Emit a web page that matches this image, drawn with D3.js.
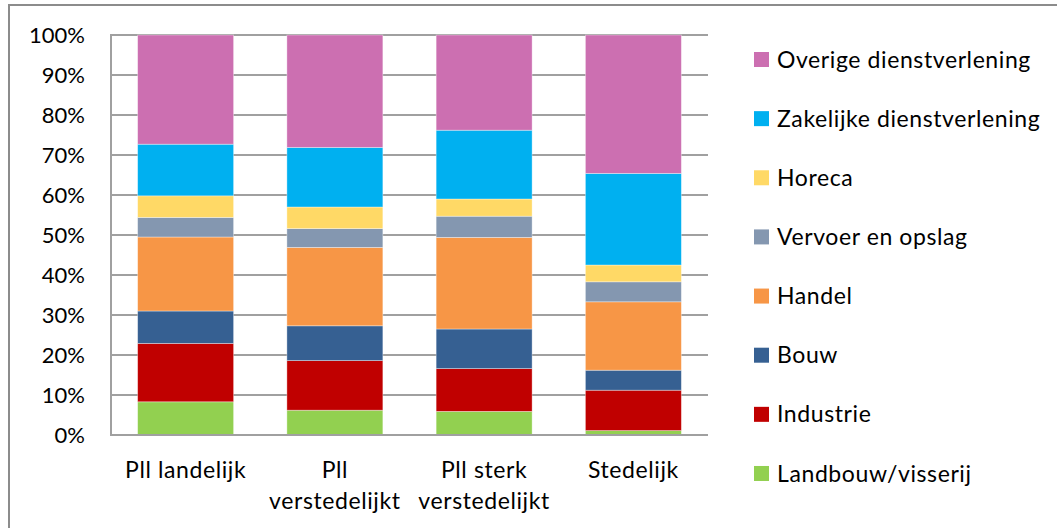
<!DOCTYPE html>
<html>
<head>
<meta charset="utf-8">
<script src="https://cdn.jsdelivr.net/npm/d3@7"></script>
<style>
  html, body { margin: 0; padding: 0; background: #fff; }
  svg { display: block; }
  text { font-family: Lato, "Open Sans", sans-serif; fill: #000; }
</style>
</head>
<body>
<svg id="chart" width="1057" height="528"></svg>
<script>
// ---- data ----
const categories = ["Pll landelijk", "Pll verstedelijkt", "Pll sterk verstedelijkt", "Stedelijk"];
const categoryLines = [["Pll landelijk"], ["Pll", "verstedelijkt"], ["Pll sterk", "verstedelijkt"], ["Stedelijk"]];
const seriesNames = ["Landbouw/visserij", "Industrie", "Bouw", "Handel", "Vervoer en opslag", "Horeca", "Zakelijke dienstverlening", "Overige dienstverlening"];
const landbouw = [8.3, 6.2, 5.9, 1.1];
const industrie = [14.6, 12.4, 10.7, 10.1];
const bouw = [8.1, 8.7, 9.9, 5.0];
const handel = [18.5, 19.6, 22.9, 17.1];
const vervoer = [4.9, 4.7, 5.3, 5.0];
const horeca = [5.4, 5.4, 4.3, 4.2];
const zakelijk = [12.9, 14.9, 17.2, 22.9];
const overige = [27.3, 28.1, 23.8, 34.6];
const seriesValues = [landbouw, industrie, bouw, handel, vervoer, horeca, zakelijk, overige];
const colors = ["#92D050", "#C00000", "#366092", "#F79646", "#8497B0", "#FFD966", "#00B0F0", "#CC6FB1"];
const yTicks = [0, 10, 20, 30, 40, 50, 60, 70, 80, 90, 100];

// ---- layout ----
const svg = d3.select("#chart");
const plot = { left: 111, right: 708, top: 35, bottom: 435 };
const fontSize = 23;
const spacing = 0.6;

// outer frame
svg.append("path")
  .attr("d", "M9,540 L9,5 L1070,5")
  .attr("fill", "none").attr("stroke", "#8c8c8c").attr("stroke-width", 2);

const x = d3.scaleBand().domain(categories).range([plot.left, plot.right])
  .paddingInner(0.357).paddingOuter(0.1785);
const y = d3.scaleLinear().domain([0, 100]).range([plot.bottom, plot.top]);

// gridlines
svg.append("g").selectAll("line").data(yTicks).join("line")
  .attr("x1", plot.left).attr("x2", plot.right)
  .attr("y1", d => y(d)).attr("y2", d => y(d))
  .attr("stroke", "#a0a0a0").attr("stroke-width", 2);

// stacked data
const rows = categories.map((c, i) => {
  const r = { cat: c };
  seriesNames.forEach((s, j) => r[s] = seriesValues[j][i]);
  return r;
});
const stack = d3.stack().keys(seriesNames)(rows);

svg.append("g").selectAll("g").data(stack).join("g")
  .attr("fill", (d, i) => colors[i])
  .selectAll("rect").data(d => d).join("rect")
  .attr("x", d => x(d.data.cat))
  .attr("width", x.bandwidth())
  .attr("y", d => y(d[1]))
  .attr("height", d => y(d[0]) - y(d[1]))
  .attr("stroke", "#ffffff").attr("stroke-opacity", 0.45).attr("stroke-width", 0.8);

// axes lines
svg.append("line").attr("x1", plot.left).attr("x2", plot.left)
  .attr("y1", plot.top - 1).attr("y2", plot.bottom + 1)
  .attr("stroke", "#a0a0a0").attr("stroke-width", 2);
svg.append("line").attr("x1", plot.left).attr("x2", plot.right)
  .attr("y1", plot.bottom).attr("y2", plot.bottom)
  .attr("stroke", "#a0a0a0").attr("stroke-width", 2);

// y tick labels
svg.append("g").selectAll("text").data(yTicks).join("text")
  .attr("x", 85).attr("y", d => y(d))
  .attr("text-anchor", "end").attr("dy", "0.35em")
  .attr("font-size", 22)
  .text(d => d + "%");

// x labels
const xl = svg.append("g").selectAll("text").data(categories).join("text")
  .attr("text-anchor", "middle").attr("font-size", fontSize)
  .attr("letter-spacing", spacing)
  .attr("x", d => x(d) + x.bandwidth() / 2)
  .attr("y", 470);
xl.each(function(d, i) {
  const t = d3.select(this);
  categoryLines[i].forEach((line, k) => {
    t.append("tspan").attr("x", x(d) + x.bandwidth() / 2)
      .attr("dy", k === 0 ? "0.35em" : 31).text(line);
  });
});

// legend
const legendOrder = seriesNames.map((s, i) => i).reverse();
const lg = svg.append("g").selectAll("g").data(legendOrder).join("g")
  .attr("transform", (d, k) => `translate(754, ${59.5 + k * 59.14})`);
lg.append("rect").attr("x", 0).attr("y", -7.5).attr("width", 15).attr("height", 15)
  .attr("fill", d => colors[d]);
lg.append("text").attr("x", 23).attr("y", 0).attr("dy", "0.35em")
  .attr("font-size", fontSize).attr("letter-spacing", spacing)
  .text(d => seriesNames[d]);
</script>
</body>
</html>
